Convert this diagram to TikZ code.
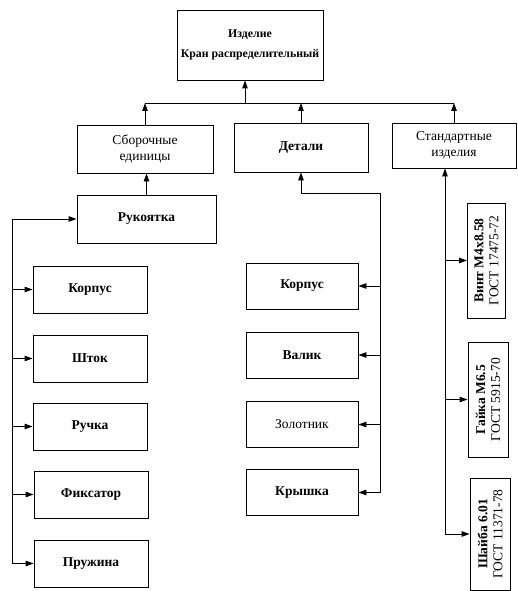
\documentclass[tikz,border=0pt]{standalone}
\usepackage{fontspec}
\setmainfont{Liberation Serif}
\usetikzlibrary{arrows.meta}
\begin{document}
\begin{tikzpicture}[x=1pt,y=-1pt,
  box/.style={draw,line width=0.9pt,rectangle,inner sep=1pt,align=center,
    font=\fontsize{13.5}{16}\selectfont},
  bbox/.style={box,font=\fontsize{13.5}{16}\selectfont\bfseries},
  lbox/.style={bbox,minimum width=114pt,minimum height=47pt},
  dbox/.style={bbox,minimum width=112pt,minimum height=46pt},
  sbox/.style={box,rotate=90,minimum width=115pt,minimum height=38pt,font=\fontsize{13.5}{15}\selectfont},
  ln/.style={line width=0.9pt},
  arr/.style={ln,-{Triangle[length=8pt,width=5.5pt]}}]
\useasboundingbox (0,0) rectangle (518,591);
% top level
\node[box,minimum width=146pt,minimum height=70pt,font=\fontsize{11.8}{20}\selectfont\bfseries] (top) at (250,45) {Изделие\\Кран распределительный};
% second level
\node[box,minimum width=136pt,minimum height=48pt] (sb) at (145,149) {Сборочные\\единицы};
\node[bbox,minimum width=134pt,minimum height=49pt] (det) at (301,147.5) {Детали};
\node[box,minimum width=124pt,minimum height=45pt] (std) at (454,145.5) {Стандартные\\изделия};
% assembly units
\node[bbox,minimum width=139pt,minimum height=48pt] (ruk) at (146.5,219) {Рукоятка};
\node[lbox] (k1) at (90,289.5) {Корпус};
\node[lbox] (k2) at (90,358.5) {Шток};
\node[lbox] (k3) at (90,426.5) {Ручка};
\node[lbox] (k4) at (91,494.5) {Фиксатор};
\node[lbox] (k5) at (91,563.5) {Пружина};
% parts
\node[dbox] (d1) at (302,286) {Корпус};
\node[dbox] (d2) at (302,355) {Валик};
\node[dbox,font=\fontsize{13.5}{16}\selectfont] (d3) at (302,424.5) {Золотник};
\node[dbox] (d4) at (302,492.5) {Крышка};
% standard items
\node[sbox] (s1) at (486.5,260.5) {\textbf{Винт М4х8.58}\\ГОСТ 17475-72};
\node[sbox,minimum height=40pt] (s2) at (488,399.5) {\textbf{Гайка М6.5}\\ГОСТ 5915-70};
\node[sbox,minimum height=40pt,minimum width=112pt] (s3) at (490,534) {\textbf{Шайба 6.01}\\ГОСТ 11371-78};
% bus coordinates
\coordinate (bus) at (0,103);
\coordinate (lb) at (12,0);
\coordinate (rb) at (380,0);
\coordinate (rt) at (0,193);
\coordinate (sbus) at (445,0);
% top bus
\draw[ln] (sb.north |- bus) -- (std.north |- bus);
\draw[arr] (sb.north) -- (sb.north |- bus);
\draw[arr] (det.north) -- (det.north |- bus);
\draw[arr] (std.north) -- (std.north |- bus);
\draw[arr] ([xshift=-5pt]top.south |- bus) -- ([xshift=-5pt]top.south);
% assembly units
\draw[arr] (ruk.north) -- (ruk.north |- sb.south);
\draw[ln] (lb |- ruk.west) -- (lb |- k5.west);
\draw[arr] (lb |- ruk.west) -- (ruk.west);
\draw[arr] (lb |- k1.west) -- (k1.west);
\draw[arr] (lb |- k2.west) -- (k2.west);
\draw[arr] (lb |- k3.west) -- (k3.west);
\draw[arr] (lb |- k4.west) -- (k4.west);
\draw[arr] (lb |- k5.west) -- (k5.west);
% parts
\draw[ln] (det.south |- rt) -- (rb |- rt) -- (rb |- d4.east);
\draw[arr] (det.south |- rt) -- (det.south);
\draw[arr] (rb |- d1.east) -- (d1.east);
\draw[arr] (rb |- d2.east) -- (d2.east);
\draw[arr] (rb |- d3.east) -- (d3.east);
\draw[arr] (rb |- d4.east) -- (d4.east);
% standard items
\draw[arr] (sbus |- s3.north) -- (sbus |- std.south);
\draw[arr] (sbus |- s1.north) -- (s1.north);
\draw[arr] (sbus |- s2.north) -- (s2.north);
\draw[arr] (sbus |- s3.north) -- (s3.north);
\end{tikzpicture}
\end{document}
